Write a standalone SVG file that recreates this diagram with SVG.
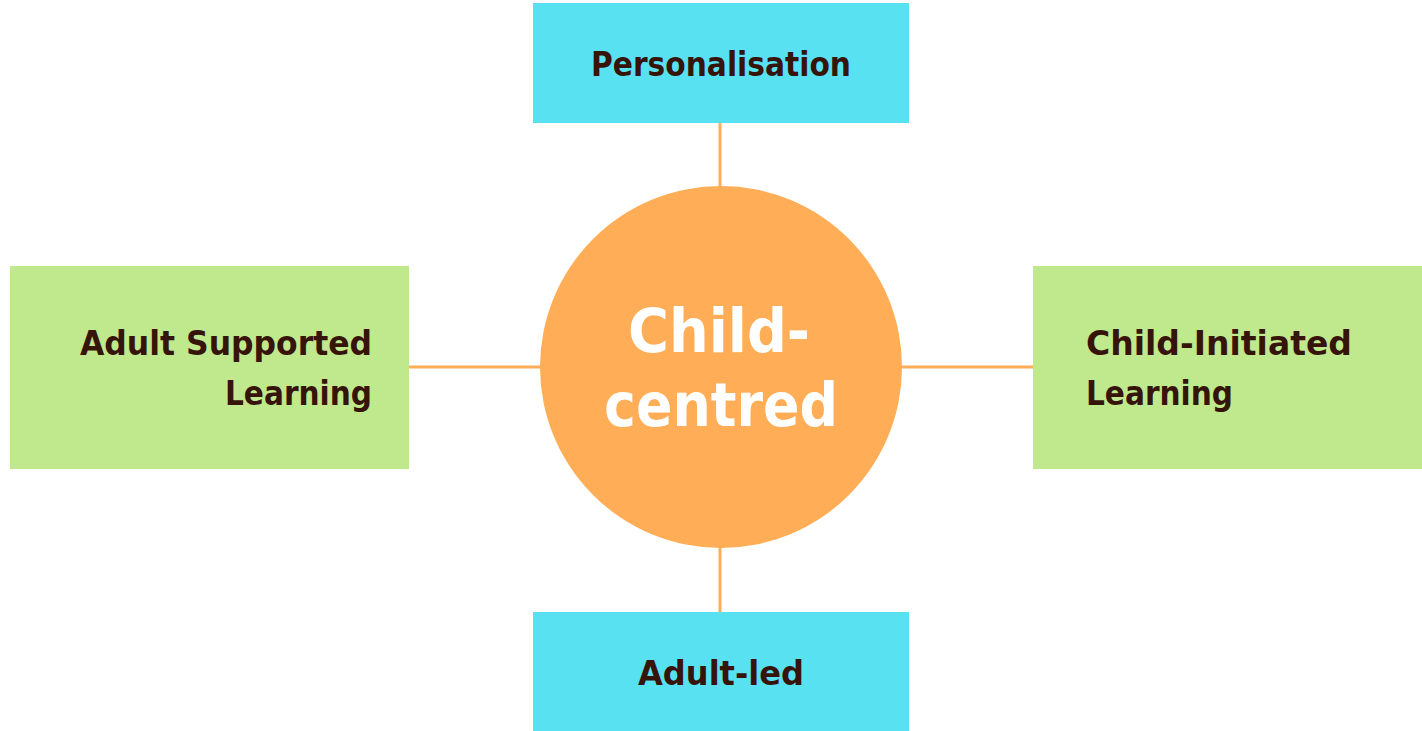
<svg xmlns="http://www.w3.org/2000/svg" width="1422" height="731" viewBox="0 0 1422 731">
<style>
.lbl{font-family:"Comic Sans MS","DejaVu Sans",sans-serif;font-weight:bold;font-size:34px;fill:#36140a}
.ctr{font-family:"Comic Sans MS","DejaVu Sans",sans-serif;font-weight:bold;font-size:60px;fill:#ffffff}
.conn{stroke:#ffae57;stroke-width:3;fill:none}
.cyan{fill:#58e1f1}
.green{fill:#bfe98c}
</style>
<rect width="1422" height="731" fill="#ffffff"/>
<g id="connectors">
<line class="conn" x1="720" y1="123" x2="720" y2="190"/>
<line class="conn" x1="720" y1="545" x2="720" y2="612"/>
<line class="conn" x1="409" y1="367" x2="545" y2="367"/>
<line class="conn" x1="898" y1="367" x2="1033" y2="367"/>
</g>
<g id="center">
<circle cx="721" cy="367" r="181" fill="#ffae57"/>
<text class="ctr" x="719" y="352" text-anchor="middle" textLength="182" lengthAdjust="spacingAndGlyphs">Child-</text>
<text class="ctr" x="721" y="426" text-anchor="middle" textLength="234" lengthAdjust="spacingAndGlyphs">centred</text>
</g>
<g id="personalisation">
<rect class="cyan" x="533" y="3" width="376" height="120"/>
<text class="lbl" x="721" y="76" text-anchor="middle" textLength="260" lengthAdjust="spacingAndGlyphs">Personalisation</text>
</g>
<g id="adult-led">
<rect class="cyan" x="533" y="612" width="376" height="119"/>
<text class="lbl" x="721" y="685" text-anchor="middle" textLength="166" lengthAdjust="spacingAndGlyphs">Adult-led</text>
</g>
<g id="adult-supported">
<rect class="green" x="10" y="266" width="399" height="203"/>
<text class="lbl" x="372" y="355" text-anchor="end" textLength="292" lengthAdjust="spacingAndGlyphs">Adult Supported</text>
<text class="lbl" x="372" y="405" text-anchor="end" textLength="147" lengthAdjust="spacingAndGlyphs">Learning</text>
</g>
<g id="child-initiated">
<rect class="green" x="1033" y="266" width="389" height="203"/>
<text class="lbl" x="1086" y="355" textLength="266" lengthAdjust="spacingAndGlyphs">Child-Initiated</text>
<text class="lbl" x="1086" y="405" textLength="147" lengthAdjust="spacingAndGlyphs">Learning</text>
</g>
</svg>
